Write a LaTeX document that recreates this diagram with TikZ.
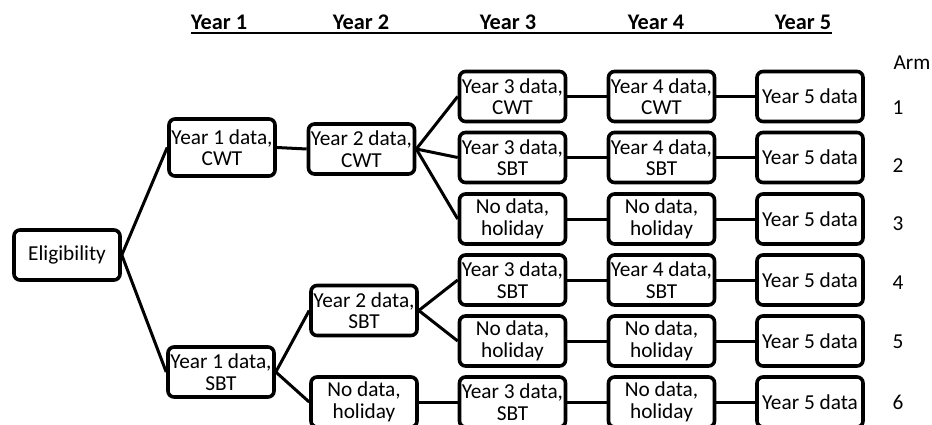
\documentclass[tikz,border=0pt]{standalone}
\usepackage{fontspec}
\setmainfont{Carlito}
\begin{document}
\begin{tikzpicture}[x=1pt,y=-1pt,
  box/.style={draw,line width=3.6pt,rounded corners=6pt,minimum width=106pt,minimum height=50pt,align=center,inner sep=0pt,font=\fontsize{21.3}{21.5}\selectfont},
  hdr/.style={anchor=base,font=\bfseries\fontsize{22.3}{24}\selectfont},
  armlbl/.style={font=\fontsize{21.3}{23}\selectfont},
  conn/.style={line width=3pt}]
\clip (0,0) rectangle (932,425);
\fill[white] (0,0) rectangle (932,425);
% headers
\node[hdr] (h1) at (219,30) {Year 1};
\node[hdr] (h2) at (361,30) {Year 2};
\node[hdr] (h3) at (508,30) {Year 3};
\node[hdr] (h4) at (656,30) {Year 4};
\node[hdr] (h5) at (803,30) {Year 5};
\coordinate (ulA) at (191,33.5);
\coordinate (ulB) at (832,33.5);
\draw[line width=2pt] (ulA) -- (ulB);
% arm labels
\node[armlbl] (arm) at (912,63) {Arm};
\node[armlbl] (a1) at (898,108) {1};
\node[armlbl] (a2) at (898,166) {2};
\node[armlbl] (a3) at (898,224) {3};
\node[armlbl] (a4) at (898,283) {4};
\node[armlbl] (a5) at (898,342) {5};
\node[armlbl] (a6) at (898,402) {6};
% nodes
\node[box] (elig) at (67,255) {Eligibility};
\node[box,minimum height=57pt] (y1c) at (222,147.5) {Year 1 data,\\CWT};
\node[box] (y2c) at (361.5,149) {Year 2 data,\\CWT};
\node[box] (y1s) at (221,372) {Year 1 data,\\SBT};
\node[box] (y2s) at (364,310.5) {Year 2 data,\\SBT};
\node[box] (y2h) at (364,402) {No data,\\holiday};
% year 3
\node[box] (r1c3) at (512.5,96.5) {Year 3 data,\\CWT};
\node[box] (r2c3) at (512.5,157.5) {Year 3 data,\\SBT};
\node[box] (r3c3) at (512.5,219) {No data,\\holiday};
\node[box] (r4c3) at (512.5,280) {Year 3 data,\\SBT};
\node[box] (r5c3) at (512.5,341) {No data,\\holiday};
\node[box] (r6c3) at (512.5,402) {Year 3 data,\\SBT};
% year 4
\node[box] (r1c4) at (661.5,96.5) {Year 4 data,\\CWT};
\node[box] (r2c4) at (661.5,157.5) {Year 4 data,\\SBT};
\node[box] (r3c4) at (661.5,219) {No data,\\holiday};
\node[box] (r4c4) at (661.5,280) {Year 4 data,\\SBT};
\node[box] (r5c4) at (661.5,341) {No data,\\holiday};
\node[box] (r6c4) at (661.5,402) {No data,\\holiday};
% year 5
\node[box] (r1c5) at (810,96.5) {Year 5 data};
\node[box] (r2c5) at (810,157.5) {Year 5 data};
\node[box] (r3c5) at (810,219) {Year 5 data};
\node[box] (r4c5) at (810,280) {Year 5 data};
\node[box] (r5c5) at (810,341) {Year 5 data};
\node[box] (r6c5) at (810,402) {Year 5 data};
% connectors
\draw[conn] (elig.east) -- (y1c.west);
\draw[conn] (elig.east) -- (y1s.west);
\draw[conn] (y1c.east) -- (y2c.west);
\draw[conn] (y2c.east) -- (r1c3.west);
\draw[conn] (y2c.east) -- (r2c3.west);
\draw[conn] (y2c.east) -- (r3c3.west);
\draw[conn] (y1s.east) -- (y2s.west);
\draw[conn] (y1s.east) -- (y2h.west);
\draw[conn] (y2s.east) -- (r4c3.west);
\draw[conn] (y2s.east) -- (r5c3.west);
\draw[conn] (y2h.east) -- (r6c3.west);
\foreach \r in {1,...,6}{
  \draw[conn] (r\r c3.east) -- (r\r c4.west);
  \draw[conn] (r\r c4.east) -- (r\r c5.west);
}
\end{tikzpicture}
\end{document}
